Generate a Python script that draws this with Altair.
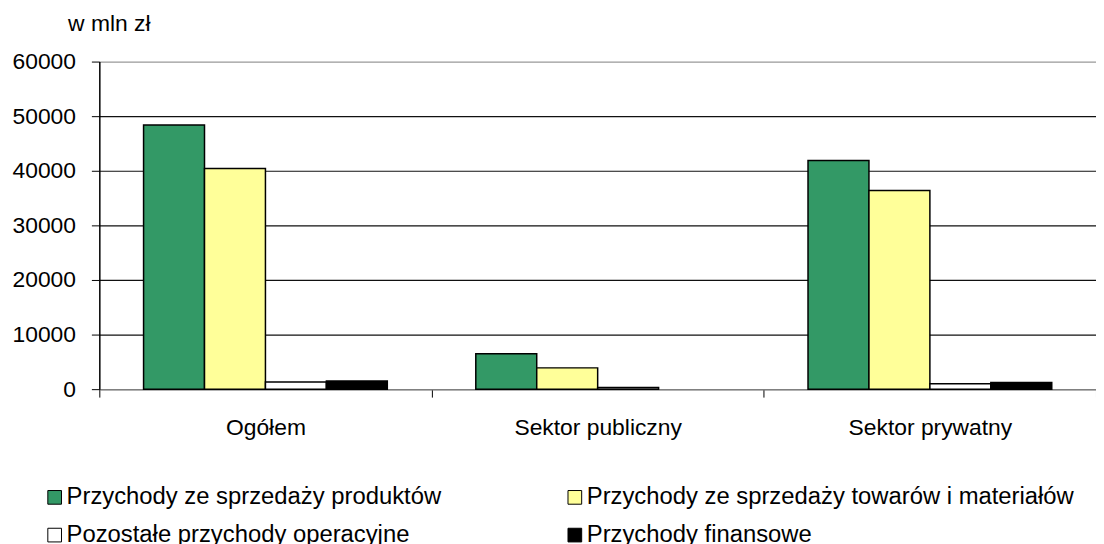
import altair as alt
import pandas as pd

categories = ["Ogółem", "Sektor publiczny", "Sektor prywatny"]
series = [
    "Przychody ze sprzedaży produktów",
    "Przychody ze sprzedaży towarów i materiałów",
    "Pozostałe przychody operacyjne",
    "Przychody finansowe",
]
produkty = [48400, 6500, 41900]
towary = [40400, 3900, 36400]
pozostale = [1300, 300, 1000]
finansowe = [1500, 0, 1200]
colors = ["#339966", "#FFFF99", "#FFFFFF", "#000000"]
y_ticks = [0, 10000, 20000, 30000, 40000, 50000, 60000]

rows = []
for s, vals in zip(series, [produkty, towary, pozostale, finansowe]):
    for c, v in zip(categories, vals):
        rows.append({"kategoria": c, "seria": s, "wartosc": v})
df = pd.DataFrame(rows)

# legend is filled column by column: order entries so rows read as in the reference
legend_order = [series[0], series[2], series[1], series[3]]
legend_colors = [colors[0], colors[2], colors[1], colors[3]]

FONT = "Liberation Sans"

chart = (
    alt.Chart(df)
    .transform_filter("datum.wartosc > 0")
    .mark_bar(stroke="black", strokeWidth=1.5)
    .encode(
        x=alt.X(
            "kategoria:N",
            sort=categories,
            scale=alt.Scale(paddingInner=0, paddingOuter=0),
            axis=alt.Axis(
                title=None,
                labelAngle=0,
                labelFontSize=23,
                labelFont=FONT,
                labelColor="black",
                labelPadding=20,
                tickBand="extent",
                tickSize=8,
                tickColor="black",
                domainColor="#808080",
                domainWidth=1.5,
                labelBaseline="top",
            ),
        ),
        xOffset=alt.XOffset(
            "seria:N",
            sort=series,
            scale=alt.Scale(paddingInner=0, paddingOuter=0.726),
        ),
        y=alt.Y(
            "wartosc:Q",
            scale=alt.Scale(domain=[0, 60000], nice=False),
            axis=alt.Axis(
                title="w mln zł",
                titleAngle=0,
                titleAlign="left",
                titleBaseline="alphabetic",
                titleX=-32,
                titleY=-31,
                titleFontSize=23,
                titleFont=FONT,
                titleFontWeight="normal",
                titleColor="black",
                values=y_ticks,
                format="d",
                labelFontSize=23,
                labelFont=FONT,
                labelColor="black",
                labelPadding=16,
                tickSize=8,
                tickColor="black",
                domainColor="black",
                domainWidth=1.5,
                grid=True,
                gridColor={
                    "condition": {
                        "test": "datum.value === 0 || datum.value === 60000",
                        "value": "#999999",
                    },
                    "value": "#111111",
                },
                gridWidth=1.2,
            ),
        ),
        color=alt.Color(
            "seria:N",
            scale=alt.Scale(domain=legend_order, range=legend_colors),
            legend=alt.Legend(
                title=None,
                orient="none",
                legendX=-57,
                legendY=427,
                columns=2,
                columnPadding=122,
                rowPadding=14,
                symbolType="square",
                symbolSize=190,
                symbolStrokeColor="black",
                symbolStrokeWidth=1,
                labelFontSize=24,
                labelFont=FONT,
                labelColor="black",
                labelOffset=0,
                labelLimit=0,
            ),
        ),
    )
    .properties(
        width=1004,
        height=330,
        autosize=alt.AutoSizeParams(type="none"),
        padding={"left": 92, "top": 52, "right": 0, "bottom": 154},
    )
    .configure_view(stroke=None)
)

chart.save("out.html", embed_options={"renderer": "svg", "actions": False})
